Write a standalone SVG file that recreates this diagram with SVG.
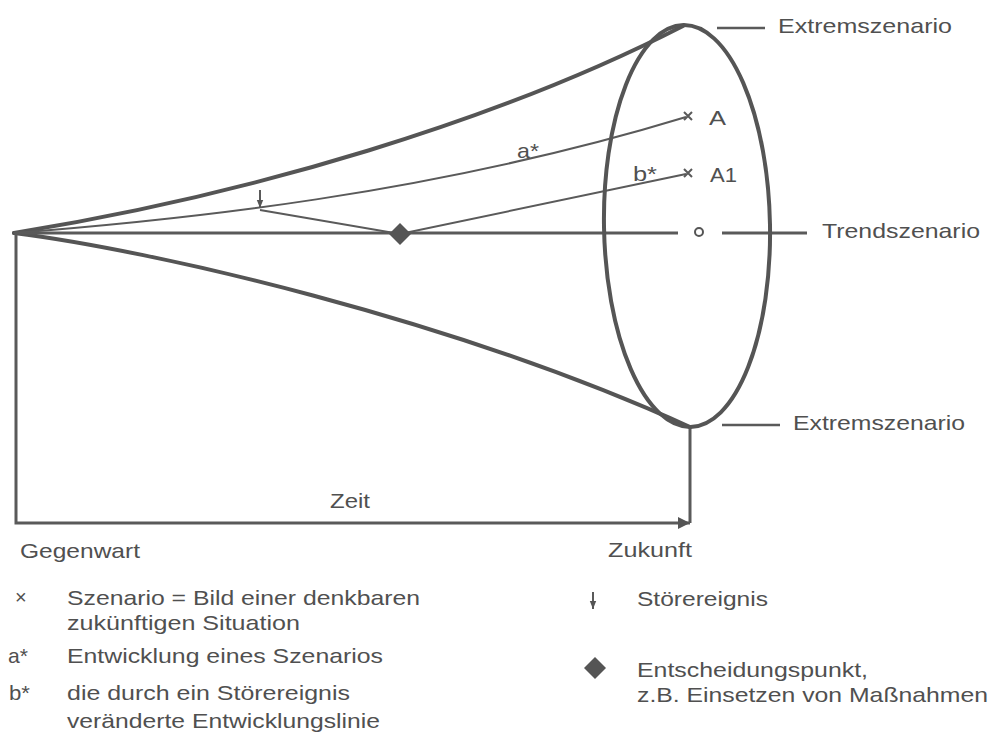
<svg xmlns="http://www.w3.org/2000/svg" width="994" height="756" viewBox="0 0 994 756">
<style>
  .t { font-family: "Liberation Sans", Arial, sans-serif; font-size: 21px; fill: #505050; }
  .thick { fill: none; stroke: #555; stroke-width: 4; stroke-linecap: round; }
  .mid { fill: none; stroke: #5a5a5a; stroke-width: 3; }
  .thin { fill: none; stroke: #5a5a5a; stroke-width: 2; }
  .lead { fill: none; stroke: #5a5a5a; stroke-width: 2.5; }
</style>
<defs>
  <marker id="ah" viewBox="0 0 10 10" refX="10" refY="5" markerWidth="4" markerHeight="4" orient="auto" markerUnits="strokeWidth">
    <path d="M0,0 L10,5 L0,10 z" fill="#555"/>
  </marker>
  <marker id="ahs" viewBox="0 0 10 10" refX="10" refY="5" markerWidth="4" markerHeight="4" orient="auto" markerUnits="strokeWidth">
    <path d="M0,1 L10,5 L0,9 z" fill="#555"/>
  </marker>
</defs>
<rect width="994" height="756" fill="#fff"/>

<g id="connectors">
  <!-- funnel upper and lower bounds -->
  <path class="thick" d="M14,233 C250,195 500,120 683,26"/>
  <path class="thick" d="M14,233 C150,250 450,318 690,427"/>
  <!-- trend line -->
  <path class="mid" d="M14,233 H678 M722,233 H807"/>
  <!-- a* development -->
  <path class="thin" d="M14,233 C180,220 430,195 686,117"/>
  <!-- b* changed development -->
  <path class="thin" d="M260,210 L400,234 L686,174"/>
  <!-- disturbance arrow -->
  <path class="thin" d="M260,190 V208" marker-end="url(#ahs)"/>
  <!-- time axis -->
  <path class="mid" d="M16,233 V523 H690" marker-end="url(#ah)"/>
  <path class="mid" d="M690,523 V428"/>
  <!-- leader lines -->
  <path class="lead" d="M717,28 H765"/>
  <path class="lead" d="M722,425 H780"/>
</g>

<g id="ellipse">
  <ellipse class="thick" cx="687" cy="226" rx="83" ry="201" transform="rotate(-1 687 226)"/>
</g>

<g id="decision">
  <polygon points="400,223 411,234 400,245 389,234" fill="#555"/>
</g>

<g id="scenarioA">
  <path class="thin" d="M684,112 L692,120 M692,112 L684,120"/>
  <text class="t" x="709" y="125" textLength="17" lengthAdjust="spacingAndGlyphs">A</text>
</g>
<g id="scenarioA1">
  <path class="thin" d="M684,169 L692,177 M692,169 L684,177"/>
  <text class="t" x="710" y="182" textLength="27" lengthAdjust="spacingAndGlyphs">A1</text>
</g>
<g id="trend">
  <circle cx="699" cy="232" r="4" fill="none" stroke="#555" stroke-width="2"/>
  <text class="t" x="822" y="238" textLength="158" lengthAdjust="spacingAndGlyphs">Trendszenario</text>
</g>
<g id="extremTop">
  <text class="t" x="778" y="33" textLength="174" lengthAdjust="spacingAndGlyphs">Extremszenario</text>
</g>
<g id="extremBottom">
  <text class="t" x="793" y="430" textLength="172" lengthAdjust="spacingAndGlyphs">Extremszenario</text>
</g>
<g id="labels">
  <text class="t" x="517" y="158" textLength="22" lengthAdjust="spacingAndGlyphs">a*</text>
  <text class="t" x="633" y="181" textLength="24" lengthAdjust="spacingAndGlyphs">b*</text>
  <text class="t" x="330" y="508" textLength="40" lengthAdjust="spacingAndGlyphs">Zeit</text>
  <text class="t" x="20" y="558" textLength="120" lengthAdjust="spacingAndGlyphs">Gegenwart</text>
  <text class="t" x="608" y="557" textLength="84" lengthAdjust="spacingAndGlyphs">Zukunft</text>
</g>

<g id="legend">
  <text class="t" x="15" y="604" style="font-size:20px">×</text>
  <text class="t" x="67" y="605" textLength="353" lengthAdjust="spacingAndGlyphs">Szenario = Bild einer denkbaren</text>
  <text class="t" x="67" y="630" textLength="233" lengthAdjust="spacingAndGlyphs">zukünftigen Situation</text>
  <text class="t" x="8" y="663" textLength="20" lengthAdjust="spacingAndGlyphs">a*</text>
  <text class="t" x="67" y="663" textLength="316" lengthAdjust="spacingAndGlyphs">Entwicklung eines Szenarios</text>
  <text class="t" x="9" y="700" textLength="21" lengthAdjust="spacingAndGlyphs">b*</text>
  <text class="t" x="67" y="700" textLength="283" lengthAdjust="spacingAndGlyphs">die durch ein Störereignis</text>
  <text class="t" x="67" y="728" textLength="313" lengthAdjust="spacingAndGlyphs">veränderte Entwicklungslinie</text>

  <path class="thin" d="M593,592 V609" marker-end="url(#ahs)"/>
  <text class="t" x="637" y="606" textLength="131" lengthAdjust="spacingAndGlyphs">Störereignis</text>
  <polygon points="595,657 606,668 595,679 584,668" fill="#555"/>
  <text class="t" x="637" y="677" textLength="231" lengthAdjust="spacingAndGlyphs">Entscheidungspunkt,</text>
  <text class="t" x="637" y="702" textLength="351" lengthAdjust="spacingAndGlyphs">z.B. Einsetzen von Maßnahmen</text>
</g>
</svg>
